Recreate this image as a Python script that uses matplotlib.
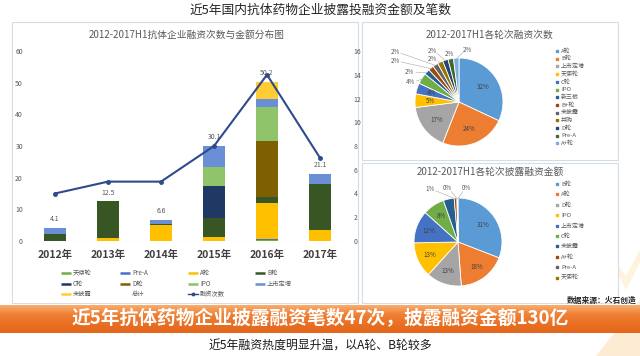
import matplotlib.pyplot as plt
import matplotlib.patches as patches
from matplotlib.colors import LinearSegmentedColormap
import numpy as np

plt.rcParams['font.family'] = ['Noto Sans CJK SC', 'DejaVu Sans']

W, H = 640, 356

# bar chart data (金额, 亿元) per round, 2012..2017H1
years = ['2012年', '2013年', '2014年', '2015年', '2016年', '2017年']
rounds = ['天使轮', 'Pre-A', 'A轮', 'B轮', 'C轮', 'D轮', 'IPO', '上市定增', '未披露']
angel = [0, 0, 0, 0, 0.3, 0]
pre_a = [0, 0, 0, 0, 0.2, 0]
a_round = [0, 0.8, 5.0, 1.2, 11.5, 3.5]
b_round = [2.1, 11.7, 0.4, 6.1, 2.0, 14.5]
c_round = [0, 0, 0, 10.0, 0, 0]
d_round = [0, 0, 0, 0, 17.5, 0]
ipo = [0, 0, 0, 6.0, 10.8, 0]
private = [2.0, 0, 1.2, 6.8, 2.5, 3.1]
undisclosed = [0, 0, 0, 0, 5.4, 0]
totals = [4.1, 12.5, 6.6, 30.1, 50.2, 21.1]
deal_counts = [4, 5, 5, 8, 14, 7]

# pie data
count_labels = ['A轮', 'B轮', '上市定增', '天使轮', 'C轮', 'IPO', '新三板', 'B+轮',
                '未披露', '并购', 'D轮', 'Pre-A', 'A+轮']
count_share = [32, 24, 17, 5, 4, 4, 2, 2, 2, 2, 2, 2, 2]
amount_labels = ['B轮', 'A轮', 'D轮', 'IPO', '上市定增', 'C轮', '未披露', 'A+轮', 'Pre-A', '天使轮']
amount_share = [31, 18, 13, 13, 12, 8, 4, 1, 0.2, 0.2]

bar_colors = ['#70AD47', '#4472C4', '#FFC000', '#375623', '#1F3864',
              '#7F6000', '#8FC46B', '#6A8FD6', '#FFCC33']
pie_colors = ['#5B9BD5', '#ED7D31', '#A5A5A5', '#FFC000', '#4472C4', '#70AD47',
              '#255E91', '#9E480E', '#636363', '#997300', '#264478', '#43682B', '#7CAFDD']

GRAY = '#595959'


def px_axes(fig, x0, y0, x1, y1):
    """axes from pixel box, y measured from the top"""
    return fig.add_axes([x0 / W, 1 - y1 / H, (x1 - x0) / W, (y1 - y0) / H])


fig = plt.figure(figsize=(W / 100, H / 100), dpi=100)
fig.patch.set_facecolor('white')

# background layer: boxes, banner, texts
bg = fig.add_axes([0, 0, 1, 1])
bg.axis('off')

# faint decoration bottom right
bg.add_patch(patches.Polygon([(596, 356), (640, 300), (640, 356)], closed=True,
                             facecolor='#FDEBD3', edgecolor='none', zorder=0))
bg.add_patch(patches.Polygon([(606, 250), (626, 290), (640, 262), (640, 250), (626, 276)],
                             closed=True, facecolor='#FEF3DC', edgecolor='none', zorder=0))

for x0, y0, x1, y1 in [(12, 22, 358, 303), (362, 22, 618, 160), (362, 163, 618, 303)]:
    bg.add_patch(patches.Rectangle((x0, y0), x1 - x0, y1 - y0, facecolor='white',
                                   edgecolor='#D6DCE5', linewidth=0.8, zorder=1))

band = LinearSegmentedColormap.from_list('band', ['#F8AE70', '#EF8035', '#EA7023', '#E2661C'])
grad = np.linspace(0, 1, 64).reshape(-1, 1)
bg.imshow(grad, cmap=band, extent=[0, W, 333, 305], aspect='auto', zorder=2)
bg.set_xlim(0, W)
bg.set_ylim(H, 0)

bg.text(320, 10, '近5年国内抗体药物企业披露投融资金额及笔数', ha='center', va='center',
        fontsize=9.2, color='#262626')
bg.text(320, 319, '近5年抗体药物企业披露融资笔数47次，披露融资金额130亿', ha='center',
        va='center', fontsize=13.5, color='white', fontweight='bold', zorder=3)
bg.text(320, 346, '近5年融资热度明显升温，以A轮、B轮较多', ha='center', va='center',
        fontsize=8.6, color='#1A1A1A')
bg.text(637, 300, '数据来源：火石创造', ha='right', va='center', fontsize=5.6,
        color='#262626', fontweight='bold', zorder=3)

bg.text(187, 35, '2012-2017H1抗体企业融资次数与金额分布图', ha='center', va='center',
        fontsize=7, color=GRAY, zorder=3)
bg.text(490, 35, '2012-2017H1各轮次融资次数', ha='center', va='center',
        fontsize=7, color=GRAY, zorder=3)
bg.text(490, 172, '2012-2017H1各轮次披露融资金额', ha='center', va='center',
        fontsize=7, color=GRAY, zorder=3)

# ---- stacked bars + line ----
ax = px_axes(fig, 28.5, 51, 346.5, 241)
ax.patch.set_alpha(0)
series = [angel, pre_a, a_round, b_round, c_round, d_round, ipo, private, undisclosed]
x = np.arange(len(years))
bottom = np.zeros(len(years))
for name, vals, col in zip(rounds, series, bar_colors):
    vals = np.array(vals, dtype=float)
    ax.bar(x, vals, 0.42, bottom=bottom, color=col, label=name, zorder=2)
    bottom += vals
for xi, t in zip(x, totals):
    ax.annotate(f'{t}', (xi, t), xytext=(0, 3.5), textcoords='offset points',
                ha='center', va='bottom', fontsize=5, color=GRAY)
ax.axhline(0, color='#D9D9D9', lw=0.8, zorder=1)
ax.set_xlim(-0.5, len(years) - 0.5)
ax.set_ylim(0, 60)
ax.set_yticks(range(0, 61, 10))
ax.set_xticks(x, years)
for lab in ax.get_xticklabels():
    lab.set_fontweight('bold')
    lab.set_fontsize(7.5)
    lab.set_color('#404040')
ax.tick_params(axis='x', length=0, pad=6)
ax.tick_params(axis='y', length=0, labelsize=5, colors=GRAY, pad=4)
for s in ax.spines.values():
    s.set_visible(False)

ax2 = ax.twinx()
ax2.plot(x, deal_counts, color='#2F4B8A', lw=1.5, marker='o', ms=2.5, zorder=3)
ax2.set_ylim(0, 16)
ax2.set_yticks(range(0, 17, 2))
ax2.tick_params(axis='y', length=0, labelsize=5, colors=GRAY, pad=5)
for s in ax2.spines.values():
    s.set_visible(False)

# bar legend, laid out row by row like the original
legend_items = [(r, c, 'bar') for r, c in zip(rounds, bar_colors)]
legend_items += [('总计', None, 'none'), ('融资次数', '#2F4B8A', 'line')]
col_x = [61, 120, 188, 255]
row_y = [273, 284, 294]
for i, (name, col, kind) in enumerate(legend_items):
    lx, ly = col_x[i % 4], row_y[i // 4]
    if kind == 'bar':
        bg.plot([lx, lx + 10], [ly, ly], color=col, lw=1.8, solid_capstyle='butt', zorder=3)
    elif kind == 'line':
        bg.plot([lx, lx + 10], [ly, ly], color=col, lw=1.0, zorder=3)
        bg.plot([lx + 5], [ly], marker='o', ms=1.8, color=col, zorder=3)
    bg.text(lx + 12, ly, name, ha='left', va='center', fontsize=4.5, color=GRAY, zorder=3)


# ---- pies ----
def draw_pie(cx, cy, r, share, labels, inside, outside, in_r, leg_top, leg_dy):
    pax = px_axes(fig, cx - r, cy - r, cx + r, cy + r)
    wedges, _ = pax.pie(share, colors=pie_colors[:len(share)], startangle=90,
                        counterclock=False, radius=1,
                        wedgeprops=dict(edgecolor='white', linewidth=0.6))
    pax.set_xlim(-1, 1)
    pax.set_ylim(-1, 1)
    total = sum(share)
    for i, w in enumerate(wedges):
        pct = f'{share[i] / total * 100:.0f}%'
        mid = np.deg2rad((w.theta1 + w.theta2) / 2)
        if i in inside:
            pax.text(in_r * np.cos(mid), in_r * np.sin(mid), pct, ha='center', va='center',
                     fontsize=4.5, color='#404040')
        elif i in outside:
            lx, ly = outside[i]
            sx, sy = 0.98 * np.cos(mid), 0.98 * np.sin(mid)
            d = np.hypot(lx - sx, ly - sy)
            ex, ey = lx - 0.14 * (lx - sx) / d, ly - 0.1 * (ly - sy) / d
            pax.plot([sx, ex], [sy, ey], color='#A6A6A6', lw=0.4, clip_on=False)
            pax.text(lx, ly, pct, ha='center', va='center', fontsize=4.5, color=GRAY)
    for i, name in enumerate(labels):
        yy = leg_top + i * leg_dy
        bg.plot([557], [yy], marker='s', ms=1.5, color=pie_colors[i], zorder=3)
        bg.text(561, yy, name, ha='left', va='center', fontsize=4.3, color=GRAY, zorder=3)


count_out = {5: (-1.1, 0.45), 6: (-1.12, 0.68), 7: (-1.45, 0.93), 8: (-1.45, 1.14),
             9: (-0.61, 0.98), 10: (-0.61, 1.17), 11: (-0.22, 1.08), 12: (0.2, 1.19)}
draw_pie(459, 102, 44, count_share, count_labels, inside=[0, 1, 2, 3, 4],
         outside=count_out, in_r=0.65, leg_top=51, leg_dy=7.7)

amount_out = {7: (-0.64, 1.2), 8: (-0.25, 1.22), 9: (0.2, 1.22)}
draw_pie(458, 242, 44, amount_share, amount_labels, inside=[0, 1, 2, 3, 4, 5],
         outside=amount_out, in_r=0.7, leg_top=184, leg_dy=10.4)

fig.savefig('out.png', dpi=100, facecolor='white')
